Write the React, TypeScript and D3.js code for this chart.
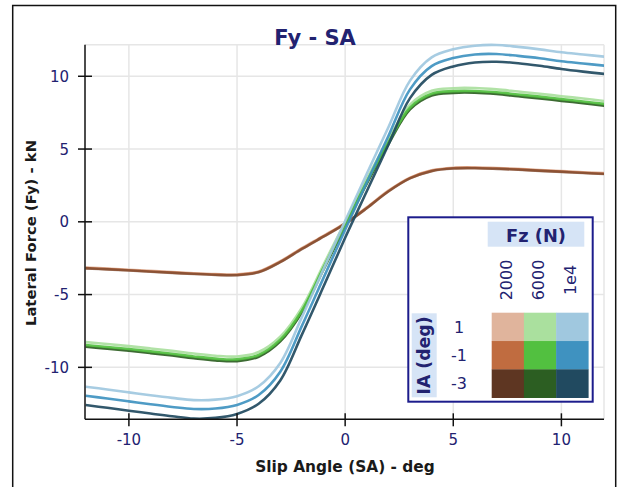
import React from "react";
import * as d3 from "d3";

// ---- data ----
const slipAngles = [-12, -11, -10, -9, -8, -7, -6, -5, -4, -3, -2, -1, 0, 1, 2, 3, 4, 5, 6, 7, 8, 9, 10, 11, 12];

const fzLabels = ["2000", "6000", "1e4"];
const iaLabels = ["1", "-1", "-3"];
const xTicks = [-10, -5, 0, 5, 10];
const yTicks = [-10, -5, 0, 5, 10];

// Fz = 2000 N
const fy2000_ia1 = [-3.14, -3.21, -3.29, -3.37, -3.45, -3.53, -3.59, -3.61, -3.41, -2.71, -1.81, -0.96, -0.08, 0.99, 2.14, 3.04, 3.54, 3.72, 3.74, 3.7, 3.64, 3.56, 3.49, 3.41, 3.34];
const fy2000_iam1 = [-3.18, -3.25, -3.33, -3.41, -3.49, -3.57, -3.63, -3.65, -3.45, -2.75, -1.85, -1.0, -0.12, 0.95, 2.1, 3.0, 3.5, 3.68, 3.7, 3.66, 3.6, 3.52, 3.45, 3.37, 3.3];
const fy2000_iam3 = [-3.2, -3.27, -3.35, -3.43, -3.51, -3.59, -3.65, -3.67, -3.47, -2.77, -1.87, -1.02, -0.14, 0.93, 2.08, 2.98, 3.48, 3.66, 3.68, 3.64, 3.58, 3.5, 3.43, 3.35, 3.28];
// Fz = 6000 N
const fy6000_ia1 = [-8.27, -8.4, -8.54, -8.7, -8.87, -9.05, -9.2, -9.25, -8.95, -7.9, -5.9, -2.95, 0.0, 2.95, 5.65, 8.05, 9.0, 9.18, 9.19, 9.1, 8.95, 8.8, 8.63, 8.47, 8.3];
const fy6000_iam1 = [-8.47, -8.6, -8.74, -8.9, -9.07, -9.25, -9.4, -9.45, -9.15, -8.1, -6.1, -3.15, -0.2, 2.75, 5.45, 7.85, 8.8, 8.98, 8.99, 8.9, 8.75, 8.6, 8.43, 8.27, 8.1];
const fy6000_iam3 = [-8.59, -8.72, -8.86, -9.02, -9.19, -9.37, -9.52, -9.57, -9.27, -8.22, -6.22, -3.27, -0.32, 2.63, 5.33, 7.73, 8.68, 8.86, 8.87, 8.78, 8.63, 8.48, 8.31, 8.15, 7.98];
// Fz = 1e4 N
const fy1e4_ia1 = [-11.33, -11.52, -11.72, -11.92, -12.1, -12.25, -12.22, -11.98, -11.3, -9.7, -6.55, -3.25, 0.05, 3.3, 6.5, 9.7, 11.3, 11.85, 12.1, 12.15, 12.02, 11.85, 11.65, 11.5, 11.35];
const fy1e4_iam1 = [-11.95, -12.14, -12.34, -12.54, -12.72, -12.86, -12.83, -12.58, -11.9, -10.3, -7.15, -3.85, -0.55, 2.7, 5.9, 9.1, 10.7, 11.25, 11.5, 11.53, 11.4, 11.24, 11.03, 10.88, 10.73];
const fy1e4_iam3 = [-12.59, -12.78, -12.98, -13.17, -13.36, -13.52, -13.47, -13.2, -12.5, -10.9, -7.75, -4.45, -1.1, 2.1, 5.3, 8.5, 10.1, 10.68, 10.95, 11.0, 10.9, 10.72, 10.5, 10.32, 10.16];

const colors2000 = ["#e0b49c", "#c06c40", "#5e3622"];
const colors6000 = ["#aae09e", "#52c040", "#2c5e22"];
const colors1e4 = ["#a0c8df", "#3f92c0", "#214a60"];

const seriesList = [
  { values: fy2000_ia1, color: colors2000[0], opacity: 0.9 },
  { values: fy2000_iam1, color: colors2000[1], opacity: 0.9 },
  { values: fy2000_iam3, color: colors2000[2], opacity: 0.55 },
  { values: fy6000_ia1, color: colors6000[0], opacity: 0.92 },
  { values: fy6000_iam3, color: colors6000[2], opacity: 0.92 },
  { values: fy6000_iam1, color: colors6000[1], opacity: 0.92 },
  { values: fy1e4_ia1, color: colors1e4[0], opacity: 0.92 },
  { values: fy1e4_iam3, color: colors1e4[2], opacity: 0.92 },
  { values: fy1e4_iam1, color: colors1e4[1], opacity: 0.92 },
];
const colorGrid = [
  [colors2000[0], colors6000[0], colors1e4[0]],
  [colors2000[1], colors6000[1], colors1e4[1]],
  [colors2000[2], colors6000[2], colors1e4[2]],
];

const W = 623;
const H = 487;
const L = 85, R = 604, T = 44.7, B = 419.3;
const FONT = "'DejaVu Sans', Verdana, sans-serif";
const NAVY = "#222270";

export default function App() {
  const x = d3.scaleLinear().domain([-12.03, 11.97]).range([L, R]);
  const y = d3.scaleLinear().domain([-13.57, 12.17]).range([B, T]);
  const line = d3
    .line<number>()
    .x((_, i) => x(slipAngles[i]))
    .y((d) => y(d))
    .curve(d3.curveCatmullRom.alpha(0.5));

  const lgX0 = 408.3, lgY0 = 217.3, lgX1 = 592.7, lgY1 = 401.7;
  const cellX0 = 491.7, cellY0 = 312.7, cellW = 32.2, cellH = 28.33;

  return (
    <svg width={W} height={H} style={{ position: "absolute", left: 0, top: 0, background: "#fff" }}>
      <defs>
        <clipPath id="plotclip">
          <rect x={L} y={T - 2} width={R - L} height={B - T + 2} />
        </clipPath>
      </defs>
      <rect x={0} y={0} width={W} height={H} fill="#fff" />
      <rect x={12.7} y={5.5} width={603} height={500} fill="none" stroke="#111" strokeWidth={1.5} />

      <g stroke="#e6e6e6" strokeWidth={1.5}>
        {xTicks.map((t) => (
          <line key={"gx" + t} x1={x(t)} x2={x(t)} y1={T} y2={B} />
        ))}
        {yTicks.map((t) => (
          <line key={"gy" + t} x1={L} x2={R} y1={y(t)} y2={y(t)} />
        ))}
        <line x1={L} x2={R} y1={T} y2={T} />
        <line x1={R} x2={R} y1={T} y2={B} />
      </g>

      <g clipPath="url(#plotclip)" fill="none">
        {seriesList.map((s, i) => (
          <path
            key={i}
            d={line(s.values) || ""}
            stroke={s.color}
            strokeWidth={2.6}
            strokeOpacity={s.opacity}
            strokeLinejoin="round"
          />
        ))}
      </g>

      <g stroke="#111" strokeWidth={1.5}>
        <line x1={L} x2={L} y1={T} y2={B} />
        <line x1={L} x2={R} y1={B} y2={B} />
        {xTicks.map((t) => (
          <line key={"tx" + t} x1={x(t)} x2={x(t)} y1={B - 6} y2={B + 7} />
        ))}
        {yTicks.map((t) => (
          <line key={"ty" + t} x1={L - 7} x2={L + 7} y1={y(t)} y2={y(t)} />
        ))}
      </g>
      <g fontFamily={FONT} fontSize={15} fill={NAVY}>
        {xTicks.map((t) => (
          <text key={"lx" + t} x={x(t)} y={445} textAnchor="middle">
            {t}
          </text>
        ))}
        {yTicks.map((t) => (
          <text key={"ly" + t} x={69} y={y(t) + 5.5} textAnchor="end">
            {t}
          </text>
        ))}
      </g>

      <text x={315} y={45} textAnchor="middle" fontFamily={FONT} fontWeight="bold" fontSize={21} fill={NAVY}>
        Fy - SA
      </text>
      <text x={345} y={471.5} textAnchor="middle" fontFamily={FONT} fontWeight="bold" fontSize={15.4} fill="#1a1a1a">
        Slip Angle (SA) - deg
      </text>
      <text
        transform="translate(36,233) rotate(-90)"
        textAnchor="middle"
        fontFamily={FONT}
        fontWeight="bold"
        fontSize={14.8}
        fill="#1a1a1a"
      >
        Lateral Force (Fy) - kN
      </text>

      <rect x={lgX0} y={lgY0} width={lgX1 - lgX0} height={lgY1 - lgY0} fill="#fff" stroke="#1c1c8c" strokeWidth={2} />
      <rect x={487.7} y={221.7} width={96.6} height={25} fill="#d6e4f6" />
      <text x={536} y={242.3} textAnchor="middle" fontFamily={FONT} fontWeight="bold" fontSize={17.8} fill={NAVY}>
        Fz (N)
      </text>
      <rect x={411.7} y={313.3} width={25} height={84} fill="#d6e4f6" />
      <text
        transform="translate(429.5,355.5) rotate(-90)"
        textAnchor="middle"
        fontFamily={FONT}
        fontWeight="bold"
        fontSize={17.3}
        fill={NAVY}
      >
        IA (deg)
      </text>
      {fzLabels.map((f, j) => (
        <text
          key={"fz" + f}
          transform={`translate(${cellX0 + cellW * (j + 0.5) + 4},280) rotate(-90)`}
          textAnchor="middle"
          fontFamily={FONT}
          fontSize={16}
          fill={NAVY}
        >
          {f}
        </text>
      ))}
      {iaLabels.map((a, i) => (
        <text
          key={"ia" + a}
          x={459}
          y={cellY0 + cellH * (i + 0.5) + 5.8}
          textAnchor="middle"
          fontFamily={FONT}
          fontSize={16}
          fill={NAVY}
        >
          {a}
        </text>
      ))}
      {colorGrid.map((row, i) =>
        row.map((c, j) => (
          <rect
            key={"c" + i + j}
            x={cellX0 + cellW * j}
            y={cellY0 + cellH * i}
            width={cellW + 0.3}
            height={cellH + 0.3}
            fill={c}
          />
        ))
      )}
    </svg>
  );
}
